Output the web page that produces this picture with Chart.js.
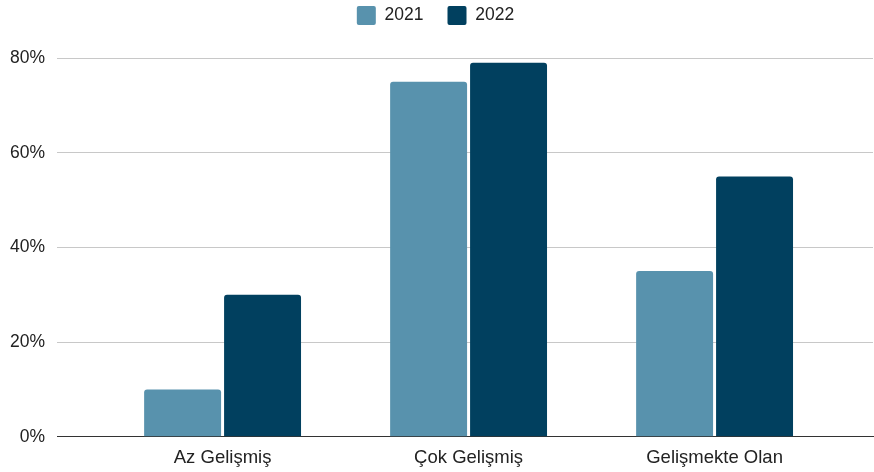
<!DOCTYPE html>
<html>
<head>
<meta charset="utf-8">
<script src="https://cdn.jsdelivr.net/npm/chart.js@4/dist/chart.umd.min.js"></script>
<style>
  html, body { margin: 0; padding: 0; background: #fff; }
  #wrap { width: 874px; height: 472px; }
</style>
</head>
<body>
<div id="wrap"><canvas id="chart"></canvas></div>
<script>
// chart data
const categories = ['Az Gelişmiş', 'Çok Gelişmiş', 'Gelişmekte Olan'];
const values2021 = [10, 75, 35];
const values2022 = [30, 79, 55];
const yTicks = [0, 20, 40, 60, 80];

const FONT = '"Liberation Sans", Arial, sans-serif';

const toPoints = arr => arr.map((v, i) => ({ x: i, y: v }));

// extra room between legend and plot
const legendSpacer = {
    id: 'legendSpacer',
    beforeInit(chart) {
        const fit = chart.legend.fit;
        chart.legend.fit = function () {
            fit.call(this);
            this.height += 23;
        };
    }
};

const ctx = document.getElementById('chart').getContext('2d');
new Chart(ctx, {
    type: 'bar',
    data: {
        datasets: [{
            label: '2021',
            data: toPoints(values2021),
            backgroundColor: '#5892ad',
            borderRadius: 3,
            borderSkipped: 'bottom'
        }, {
            label: '2022',
            data: toPoints(values2022),
            backgroundColor: '#01405f',
            borderRadius: 3,
            borderSkipped: 'bottom'
        }]
    },
    plugins: [legendSpacer],
    options: {
        responsive: true,
        maintainAspectRatio: false,
        animation: false,
        categoryPercentage: 0.65,
        barPercentage: 0.9625,
        layout: { padding: { left: -2, right: 1, top: -18, bottom: -7 } },
        plugins: {
            tooltip: { enabled: false },
            legend: {
                position: 'top',
                labels: {
                    font: { family: FONT, size: 17.5 },
                    color: '#222',
                    boxWidth: 19,
                    boxHeight: 19,
                    useBorderRadius: true,
                    borderRadius: 2,
                    padding: 24
                }
            }
        },
        scales: {
            x: {
                type: 'linear',
                offset: false,
                min: -0.673,
                max: 2.644,
                grid: { display: false, drawTicks: false },
                border: { display: true, color: '#333', width: 1 },
                afterBuildTicks: scale => {
                    scale.ticks = categories.map((c, i) => ({ value: i }));
                },
                ticks: {
                    font: { family: FONT, size: 18.5 },
                    color: '#222',
                    padding: 10,
                    maxRotation: 0,
                    autoSkip: false,
                    callback: v => categories[v]
                }
            },
            y: {
                min: 0,
                max: 80,
                afterBuildTicks: scale => {
                    scale.ticks = yTicks.map(v => ({ value: v }));
                },
                border: { display: false },
                grid: {
                    drawTicks: false,
                    color: c => c.tick && c.tick.value === 0 ? '#333' : '#c8c8c8',
                    lineWidth: 1
                },
                ticks: {
                    font: { family: FONT, size: 17.5 },
                    color: '#222',
                    padding: 12,
                    callback: v => v + '%'
                }
            }
        }
    }
});
</script>
</body>
</html>
